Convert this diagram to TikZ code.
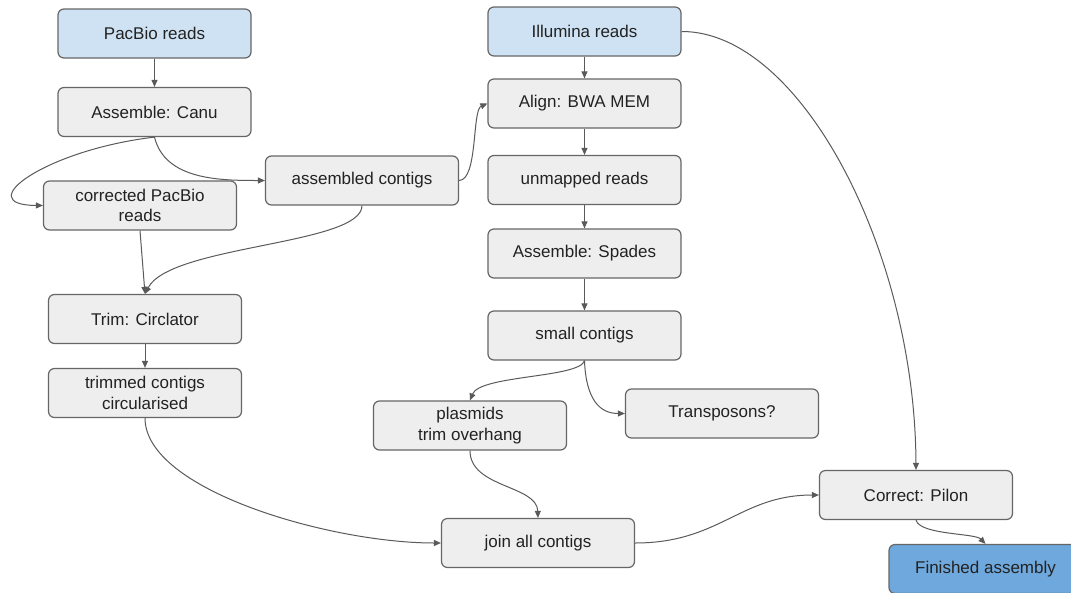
\documentclass[tikz,border=0pt]{standalone}
\usepackage{fontspec}
\setmainfont{Liberation Sans}
\usetikzlibrary{arrows.meta}
\definecolor{boxfill}{HTML}{EEEEEE}
\definecolor{bluefill}{HTML}{CFE2F3}
\definecolor{darkblue}{HTML}{6FA8DC}
\definecolor{edgecol}{HTML}{5A5A5A}
\definecolor{bordercol}{HTML}{666666}
\definecolor{txt}{HTML}{222222}
\begin{document}
\begin{tikzpicture}[x=1pt,y=-1pt,
  box/.style={draw=bordercol, line width=1.2pt, fill=boxfill, rounded corners=6pt,
    minimum width=193pt, minimum height=49pt, inner sep=0pt, align=center,
    text=txt, font=\fontsize{17}{20.5}\selectfont},
  src/.style={box, fill=bluefill},
  fin/.style={box, fill=darkblue},
  conn/.style={draw=edgecol, line width=1pt, -{Triangle[length=7pt,width=6pt]}}
]
\useasboundingbox (0,0) rectangle (1071,592);
\clip (0,0) rectangle (1071,592);
\fill[white] (0,0) rectangle (1071,592);

\node[src] (pac) at (154.5,33.5) {PacBio reads};
\node[box] (canu) at (154.5,112) {Assemble: Canu};
\node[box] (corr) at (140,205.5) {corrected PacBio\\reads};
\node[box] (asm) at (362,180.5) {assembled contigs};
\node[box] (trim) at (145,319) {Trim: Circlator};
\node[box] (trimmed) at (145,393) {trimmed contigs\\circularised};

\node[src] (ill) at (584.5,31.5) {Illumina reads};
\node[box] (align) at (584.5,103.5) {Align: BWA MEM};
\node[box] (unmap) at (584.5,180) {unmapped reads};
\node[box] (spades) at (584.5,253.5) {Assemble: Spades};
\node[box] (small) at (584.5,335.5) {small contigs};
\node[box] (plas) at (470,425.5) {plasmids\\trim overhang};
\node[box] (trans) at (722,413.5) {Transposons?};
\node[box] (pilon) at (916,495) {Correct: Pilon};
\node[box] (join) at (538,543) {join all contigs};
\node[fin] (finn) at (985.5,569) {Finished assembly};

\draw[conn] (pac) -- (canu);
\draw[conn] (canu.south) .. controls (45,150) and (-30,205) .. (corr.west);
\draw[conn] (canu.south) .. controls (165,180) and (220,180.5) .. (asm.west);
\draw[conn] (asm.east) .. controls (478,180) and (472,110) .. (align.west);
\draw[conn] (corr.south) -- (trim.north);
\draw[conn] (asm.south) .. controls (362,245) and (170,245) .. (trim.north);
\draw[conn] (trim) -- (trimmed);
\draw[conn] (trimmed.south) .. controls (145,490) and (330,543) .. (join.west);

\draw[conn] (ill) -- (align);
\draw[conn] (align) -- (unmap);
\draw[conn] (unmap) -- (spades);
\draw[conn] (spades) -- (small);
\draw[conn] (small.south) .. controls (580,378) and (480,375) .. (plas.north);
\draw[conn] (small.south) .. controls (586,400) and (600,413.5) .. (trans.west);
\draw[conn] (plas.south) .. controls (470,488) and (537,485) .. (join.north);
\draw[conn] (ill.east) .. controls (800,31) and (915,250) .. (pilon.north);
\draw[conn] (join.east) .. controls (720,543) and (740,495) .. (pilon.west);
\draw[conn] (pilon.south) .. controls (920,535) and (975,533) .. (finn.north);
\end{tikzpicture}
\end{document}
